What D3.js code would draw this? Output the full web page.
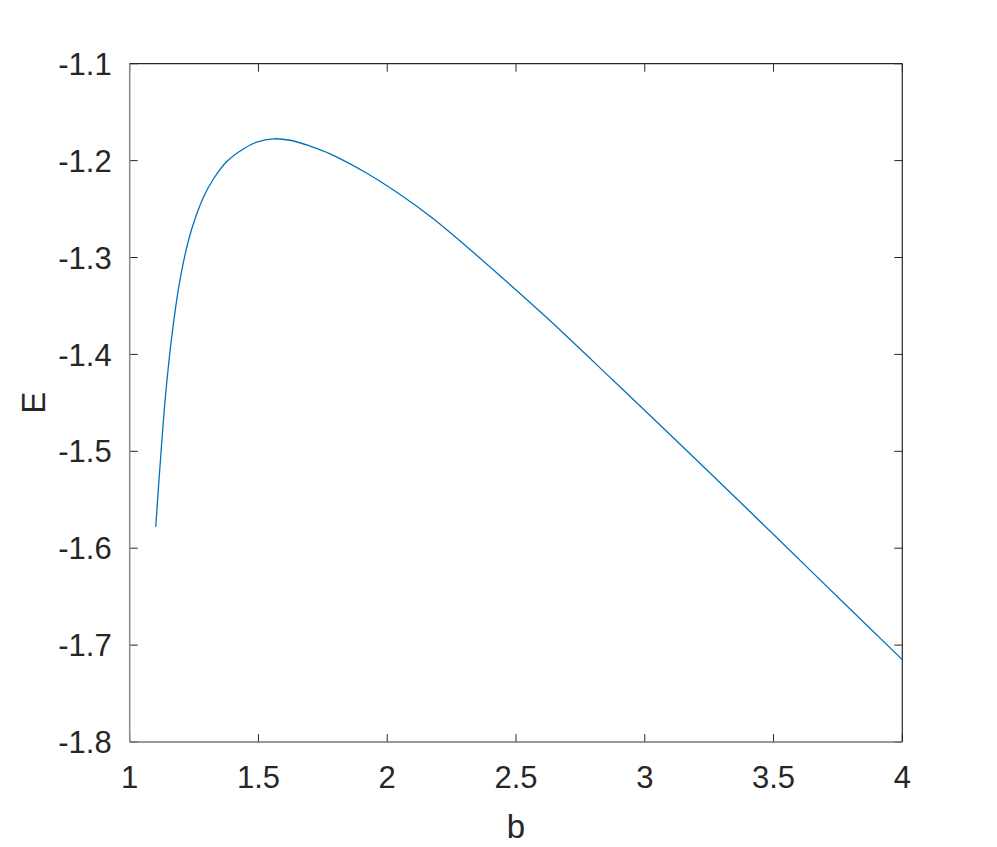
<!DOCTYPE html>
<html>
<head>
<meta charset="utf-8">
<script src="https://cdn.jsdelivr.net/npm/d3@7"></script>
<style>
  html, body { margin: 0; padding: 0; background: #fff; }
  svg { display: block; }
  text { font-family: "Liberation Sans", Arial, Helvetica, sans-serif; fill: #262626; }
</style>
</head>
<body>
<script>
// ---- data ----
const bValues = [1.101, 1.111, 1.121, 1.134, 1.150, 1.167, 1.189, 1.215, 1.245, 1.286,
                 1.325, 1.377, 1.441, 1.493, 1.558, 1.623, 1.700, 1.778, 1.921, 2.050,
                 2.179, 2.309, 2.460, 2.619, 2.878, 3.111, 3.396, 3.655, 4.000];
const eValues = [-1.578, -1.540, -1.503, -1.458, -1.413, -1.374, -1.333, -1.297, -1.267, -1.238,
                 -1.219, -1.201, -1.188, -1.181, -1.1775, -1.179, -1.185, -1.193, -1.213, -1.235,
                 -1.260, -1.289, -1.324, -1.362, -1.427, -1.486, -1.559, -1.626, -1.715];
const xTicks = [1, 1.5, 2, 2.5, 3, 3.5, 4];
const yTicks = [-1.1, -1.2, -1.3, -1.4, -1.5, -1.6, -1.7, -1.8];
const xLabel = "b";
const yLabel = "E";

(function () {
// ---- layout ----
const W = 997, H = 847;
const pLeft = 129.7, pRight = 902.3, pTop = 63.7, pBottom = 742;

const svg = d3.select("body").append("svg").attr("width", W).attr("height", H);

const x = d3.scaleLinear().domain([1, 4]).range([pLeft, pRight]);
const y = d3.scaleLinear().domain([-1.8, -1.1]).range([pBottom, pTop]);

const axisColor = "#262626";
const tickLen = 8;
const fs = 31;

// ticks (inward, mirrored)
const tg = svg.append("g").attr("stroke", axisColor).attr("stroke-width", 1);
xTicks.forEach(v => {
  const px = x(v);
  tg.append("line").attr("x1", px).attr("x2", px).attr("y1", pBottom).attr("y2", pBottom - tickLen);
  tg.append("line").attr("x1", px).attr("x2", px).attr("y1", pTop).attr("y2", pTop + tickLen);
});
yTicks.forEach(v => {
  const py = y(v);
  tg.append("line").attr("x1", pLeft).attr("x2", pLeft + tickLen).attr("y1", py).attr("y2", py);
  tg.append("line").attr("x1", pRight).attr("x2", pRight - tickLen).attr("y1", py).attr("y2", py);
});

// box
svg.append("line").attr("x1", pLeft).attr("x2", pRight).attr("y1", pTop).attr("y2", pTop)
  .attr("stroke", axisColor).attr("stroke-width", 1.2);
svg.append("line").attr("x1", pRight).attr("x2", pRight).attr("y1", pTop).attr("y2", pBottom)
  .attr("stroke", axisColor).attr("stroke-width", 1.2);
svg.append("line").attr("x1", pLeft).attr("x2", pRight).attr("y1", pBottom).attr("y2", pBottom)
  .attr("stroke", "#777").attr("stroke-width", 1.5);
svg.append("line").attr("x1", pLeft).attr("x2", pLeft).attr("y1", pTop).attr("y2", pBottom)
  .attr("stroke", "#888").attr("stroke-width", 1.5);

// tick labels
xTicks.forEach(v => {
  svg.append("text").attr("x", x(v)).attr("y", pBottom + 46)
    .attr("text-anchor", "middle").attr("font-size", fs)
    .text(d3.format("~g")(v));
});
yTicks.forEach(v => {
  svg.append("text").attr("x", pLeft - 18).attr("y", y(v)).attr("dy", "0.36em")
    .attr("text-anchor", "end").attr("font-size", fs)
    .text(d3.format(".1f")(v).replace("−", "-"));
});

// axis labels
svg.append("text").attr("x", (pLeft + pRight) / 2).attr("y", 838)
  .attr("text-anchor", "middle").attr("font-size", 33).text(xLabel);
svg.append("text").attr("transform", `translate(45,${(pTop + pBottom) / 2}) rotate(-90)`)
  .attr("text-anchor", "middle").attr("font-size", 33).text(yLabel);

// curve
const data = bValues.map((b, i) => ({ b, e: eValues[i] }));
svg.append("path").datum(data)
  .attr("fill", "none").attr("stroke", "#0072BD").attr("stroke-width", 1.3)
  .attr("d", d3.line().x(d => x(d.b)).y(d => y(d.e)).curve(d3.curveCatmullRom.alpha(0.5)));
})();
</script>
</body>
</html>
